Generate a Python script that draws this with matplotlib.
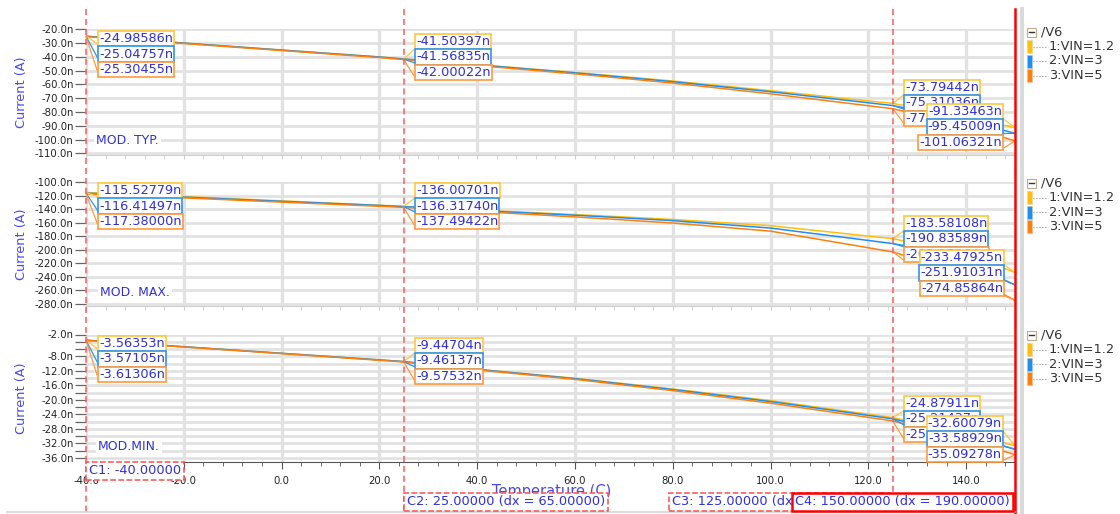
import matplotlib
matplotlib.use("Agg")
import matplotlib.pyplot as plt
from matplotlib import transforms
from matplotlib.patches import Rectangle
from matplotlib.lines import Line2D
from matplotlib.ticker import MultipleLocator, FixedLocator

# temperature sweep (C) and the leakage current (nA) per corner / VIN
TEMP = [-40, -20, 0, 20, 25, 40, 60, 80, 100, 125, 140, 150]
CURSORS = [-40, 25, 125, 150]
LEGEND_LABELS = ["1:VIN=1.2", "2:VIN=3", "3:VIN=5"]

TYP_VIN12 = [-24.98586, -29.9, -35.0, -40.0, -41.50397, -45.6, -51.3, -57.5, -64.5, -73.79442, -83.6, -91.33463]
TYP_VIN3 = [-25.04757, -30.0, -35.1, -40.1, -41.56835, -45.8, -51.6, -58.0, -65.3, -75.31036, -86.2, -95.45009]
TYP_VIN5 = [-25.30455, -30.3, -35.4, -40.5, -42.00022, -46.3, -52.3, -59.0, -66.8, -77.61845, -89.6, -101.06321]

MAX_VIN12 = [-115.52779, -121.5, -127.8, -134.3, -136.00701, -141.5, -148.0, -155.2, -164.5, -183.58108, -206.0, -233.47925]
MAX_VIN3 = [-116.41497, -122.3, -128.5, -134.6, -136.31740, -142.0, -149.0, -157.0, -168.0, -190.83589, -219.0, -251.91031]
MAX_VIN5 = [-117.38000, -123.4, -129.7, -135.8, -137.49422, -143.5, -151.5, -160.5, -172.5, -203.17264, -236.0, -274.85864]

MIN_VIN12 = [-3.56353, -5.36, -7.16, -8.97, -9.44704, -11.55, -14.05, -17.0, -20.2, -24.87911, -29.2, -32.60079]
MIN_VIN3 = [-3.57105, -5.37, -7.18, -8.99, -9.46137, -11.6, -14.15, -17.15, -20.45, -25.21437, -29.9, -33.58929]
MIN_VIN5 = [-3.61306, -5.43, -7.26, -9.10, -9.57532, -11.75, -14.35, -17.45, -20.9, -25.78962, -30.9, -35.09278]

CURVE_COLORS = ["#ffbe0b", "#1f8ef1", "#ff7f0e"]
BOX_COLORS = ["#ffc83a", "#2f95f0", "#ff9a3c"]
TXT_BLUE = "#2f2fe0"
AX_BLUE = "#4848f0"
GRID = "#e2e2e2"

W, H = 1120, 514
fig = plt.figure(figsize=(W / 100, H / 100), dpi=100)
# image-pixel coordinates (origin top-left)
PX = transforms.Affine2D().scale(1 / W, -1 / H).translate(0, 1) + fig.transFigure

X_LEFT, X_RIGHT = 86, 1015

panels = [
    dict(name="MOD. TYP.", name_xy=(96, 141), series=[TYP_VIN12, TYP_VIN3, TYP_VIN5],
         top=29.3, bottom=155, ylim=(-111.2, -20),
         yticks=list(range(-110, -19, 10)), ylabeled=list(range(-110, -19, 10)),
         stacks=[(97, 31, "L"), (414, 34, "L"), (903, 80, "L"), (1004, 104, "R")], legend_y=32),
    dict(name="MOD. MAX.", name_xy=(100, 293), series=[MAX_VIN12, MAX_VIN3, MAX_VIN5],
         top=182, bottom=306, ylim=(-283, -100),
         yticks=list(range(-280, -99, 20)), ylabeled=list(range(-280, -99, 20)),
         stacks=[(97, 183, "L"), (414, 183, "L"), (903, 216, "L"), (1005, 250, "R")], legend_y=183),
    dict(name="MOD.MIN.", name_xy=(98, 446), series=[MIN_VIN12, MIN_VIN3, MIN_VIN5],
         top=334.5, bottom=462, ylim=(-37.1, -2),
         yticks=list(range(-36, -1, 2)), ylabeled=[-2] + list(range(-36, -7, 4)),
         stacks=[(97, 336, "L"), (414, 338, "L"), (903, 396, "L"), (1004, 416, "R")], legend_y=335),
]

axes = []
for k, p in enumerate(panels):
    ax = fig.add_axes([X_LEFT / W, 1 - p["bottom"] / H, (X_RIGHT - X_LEFT) / W, (p["bottom"] - p["top"]) / H])
    axes.append(ax)
    last = k == len(panels) - 1

    for vals, c in zip(p["series"], CURVE_COLORS):
        ax.plot(TEMP, vals, color=c, lw=1.1, zorder=3)

    ax.set_xlim(-40, 150)
    ax.set_ylim(*p["ylim"])
    ax.xaxis.set_major_locator(MultipleLocator(20))
    ax.xaxis.set_minor_locator(MultipleLocator(4))
    ax.yaxis.set_major_locator(FixedLocator(p["yticks"]))
    ax.set_yticklabels([f"{v:.1f}n" if v in p["ylabeled"] else "" for v in p["yticks"]])
    ax.set_axisbelow(True)
    ax.grid(axis="x", which="major", color=GRID, lw=2.4)
    ax.grid(axis="y", which="major", color=GRID, lw=2.0)
    for s in ("top", "right", "left"):
        ax.spines[s].set_visible(False)
    ax.tick_params(axis="y", direction="out", length=8, width=0.9, color="#666666",
                   labelsize=7.3, labelcolor="#222222", pad=1)
    if last:
        ax.spines["bottom"].set_color("#555555")
        ax.tick_params(axis="x", which="major", direction="out", length=5, color="#555555",
                       labelsize=7.3, labelcolor="#222222", pad=5)
        ax.tick_params(axis="x", which="minor", direction="out", length=3, color="#555555")
        ax.xaxis.set_major_formatter(plt.FuncFormatter(lambda v, _: f"{v:.1f}"))
    else:
        ax.spines["bottom"].set_color("#cfcfcf")
        ax.tick_params(axis="x", which="both", direction="out", length=3, color="#cfcfcf",
                       labelbottom=False)
    ax.patch.set_alpha(0)

    ax.set_ylabel("Current (A)", color=AX_BLUE, fontsize=9.3, labelpad=4)
    ax.yaxis.set_label_coords(-0.0625, 0.5)
    fig.text(p["name_xy"][0], p["name_xy"][1], p["name"], transform=PX, color=TXT_BLUE,
             fontsize=8.9, ha="left", va="center",
             bbox=dict(boxstyle="square,pad=0.15", fc="white", ec="none"), zorder=4)

    # value readouts at each cursor
    for T, (bx, btop, side) in zip(CURSORS, p["stacks"]):
        i = TEMP.index(T)
        for j, (vals, bc) in enumerate(zip(p["series"], BOX_COLORS)):
            v = vals[i]
            yc = btop + 7.5 + 15.5 * j
            tx = bx + 2 if side == "L" else bx - 2
            ax.annotate(f"{v:.5f}n", xy=(T, v), xycoords="data", xytext=(tx, yc), textcoords=PX,
                        ha="left" if side == "L" else "right", va="center",
                        fontsize=9.3, color=TXT_BLUE, annotation_clip=False, zorder=6,
                        bbox=dict(boxstyle="square,pad=0.08", fc="white", ec=bc, lw=1.2),
                        arrowprops=dict(arrowstyle="-", color=bc, lw=0.9, shrinkA=0, shrinkB=0,
                                        relpos=(0, 0) if side == "L" else (1, 0)))

    # legend tree
    y0 = p["legend_y"]
    fig.add_artist(Rectangle((1027, y0 - 4.5), 9, 9, transform=PX, fc="white", ec="#c4a88a", lw=0.8))
    fig.add_artist(Line2D([1029, 1034], [y0, y0], transform=PX, color="#333333", lw=1.0))
    fig.text(1041, y0, "/V6", transform=PX, fontsize=9.3, color="#333333", ha="left", va="center")
    for j, (lab, c) in enumerate(zip(LEGEND_LABELS, CURVE_COLORS)):
        yc = y0 + 14.5 * (j + 1)
        fig.add_artist(Rectangle((1027, yc - 6.5), 5, 13, transform=PX, fc=c, ec="#d8c8a8", lw=0.6, ls=":"))
        fig.add_artist(Line2D([1033, 1048], [yc, yc], transform=PX, color="#9a9a9a", lw=0.8, ls=":"))
        fig.text(1049, yc, lab, transform=PX, fontsize=9.3, color="#333333", ha="left", va="center")

axes[-1].set_xlabel("Temperature (C)", color=AX_BLUE, fontsize=10.5, labelpad=-3)
axes[-1].xaxis.set_label_coords(0.501, -0.17)

# cursors: dashed C1..C3, solid C4 at the right edge
vline_tr = transforms.blended_transform_factory(axes[-1].transData, PX)
for T in CURSORS[:-1]:
    fig.add_artist(Line2D([T, T], [9, 514], transform=vline_tr, color="#ff5a5a", lw=1.1,
                          ls=(0, (4, 2.5)), zorder=2))
fig.add_artist(Line2D([CURSORS[-1], CURSORS[-1]], [9, 514], transform=vline_tr, color="#ff0000",
                      lw=1.8, zorder=2))

# side splitter and bottom rule
fig.add_artist(Rectangle((1020, 7), 4, 507, transform=PX, fc="#dadada", ec="none"))
fig.add_artist(Line2D([7, 1015], [511.5, 511.5], transform=PX, color="#d4d4d4", lw=1.2))

# cursor readouts along the bottom
dash_box = dict(boxstyle="square,pad=0.22", fc="white", ec="#ff4d4d", lw=1.1, ls="--")
x0 = CURSORS[0]
fig.text(89, 471, f"C1: {x0:.5f}", transform=PX, fontsize=9.3, color=TXT_BLUE,
         ha="left", va="center", bbox=dash_box, zorder=5)
fig.text(407, 502, f"C2: {CURSORS[1]:.5f} (dx = {CURSORS[1] - x0:.5f})", transform=PX,
         fontsize=9.3, color=TXT_BLUE, ha="left", va="center", bbox=dash_box, zorder=5)
fig.text(672, 502, f"C3: {CURSORS[2]:.5f} (dx = {CURSORS[2] - x0:.5f})", transform=PX,
         fontsize=9.3, color=TXT_BLUE, ha="left", va="center", bbox=dash_box, zorder=5)
fig.text(1010, 502, f"C4: {CURSORS[3]:.5f} (dx = {CURSORS[3] - x0:.5f})", transform=PX,
         fontsize=9.3, color=TXT_BLUE, ha="right", va="center", zorder=6,
         bbox=dict(boxstyle="square,pad=0.22", fc="white", ec="#ff0000", lw=1.8))

fig.savefig("out.png", dpi=100)
plt.close(fig)
